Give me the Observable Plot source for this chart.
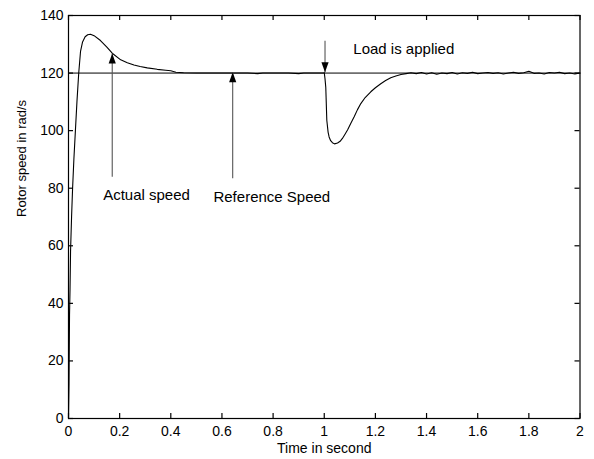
<!DOCTYPE html>
<html>
<head>
<meta charset="utf-8">
<script src="https://cdn.jsdelivr.net/npm/d3@7"></script>
<script src="https://cdn.jsdelivr.net/npm/@observablehq/plot@0.6"></script>
<style>
  html, body { margin: 0; padding: 0; background: #fff; }
  #chart svg { display: block; }
</style>
</head>
<body>
<div id="chart"></div>
<script>
// Actual rotor speed trace (time in s, speed in rad/s)
const time = [0, 0.002, 0.004, 0.006, 0.008, 0.012, 0.016, 0.021, 0.027, 0.033, 0.04, 0.047, 0.055, 0.065, 0.075, 0.086, 0.1, 0.125, 0.15, 0.171, 0.204, 0.23, 0.256, 0.28, 0.308, 0.347, 0.38, 0.4, 0.42, 0.45, 0.5, 0.55, 0.6, 0.65, 0.7, 0.74, 0.76, 0.78, 0.82, 0.86, 0.9, 0.92, 0.96, 0.998,
  1.0, 1.003, 1.006, 1.01, 1.015, 1.019, 1.025, 1.032, 1.04, 1.052, 1.062, 1.071, 1.08, 1.091, 1.104, 1.117, 1.13, 1.143, 1.16, 1.182, 1.2, 1.221, 1.24, 1.26, 1.28, 1.3, 1.32, 1.339,
  1.36, 1.38, 1.4, 1.42, 1.44, 1.46, 1.48, 1.5, 1.52, 1.54, 1.56, 1.58, 1.6, 1.62, 1.64, 1.66, 1.68, 1.7, 1.72, 1.74, 1.76, 1.78, 1.8, 1.82, 1.84, 1.86, 1.88, 1.9, 1.92, 1.94, 1.96, 1.98, 2.0];
const speed = [0, 12, 36, 45, 58, 70, 80, 90, 100, 110, 120, 127.5, 130.8, 132.6, 133.3, 133.5, 133, 131.3, 129, 126.9, 124.6, 123.6, 122.8, 122.3, 121.8, 121.3, 121.0, 120.8, 120.3, 120.1, 120, 120, 120, 120, 120, 119.8, 120, 120, 120, 120, 119.8, 120, 120, 120,
  120.2, 118, 115, 103.6, 99.5, 97.8, 96.5, 95.8, 95.4, 95.7, 96.3, 97.3, 98.6, 100.2, 102.6, 104.8, 107.3, 109.4, 111.5, 113.5, 114.9, 116.3, 117.4, 118.4, 119.0, 119.5, 119.8, 120.1,
  119.8, 120.2, 119.7, 120.1, 119.6, 120.0, 119.8, 120.2, 119.7, 120.1, 119.9, 120.3, 119.8, 120.0, 120.2, 119.9, 120.1, 119.7, 120.0, 120.3, 119.9, 120.1, 120.6, 119.9, 120.0, 119.7, 120.2, 120.0, 120.3, 119.8, 120.0, 119.7, 120.0];

// Reference speed
const refTime = [0, 2];
const refSpeed = [120, 120];

// Tick values
const xTicks = [0, 0.2, 0.4, 0.6, 0.8, 1, 1.2, 1.4, 1.6, 1.8, 2];
const yTicks = [0, 20, 40, 60, 80, 100, 120, 140];

// Annotations: arrow from (x, yFrom) to tip (x, yTip); text at (tx, ty)
const arrowX = [0.171, 0.642, 1.003];
const arrowFrom = [84, 83.5, 131.2];
const arrowTip = [126.8, 120.3, 120.3];
const labelText = ["Actual speed", "Reference Speed", "Load is applied"];
const labelX = [0.305, 0.795, 1.311];
const labelY = [77.6, 77, 128.3];

const series = time.map((t, i) => ({t, v: speed[i]}));
const ref = refTime.map((t, i) => ({t, v: refSpeed[i]}));
const arrows = arrowX.map((x, i) => ({x, y1: arrowFrom[i], y2: arrowTip[i], up: arrowTip[i] > arrowFrom[i]}));
const labels = labelText.map((s, i) => ({s, x: labelX[i], y: labelY[i]}));

const headUp = {draw(ctx) { ctx.moveTo(0, 0); ctx.lineTo(3.6, 10); ctx.lineTo(-3.6, 10); ctx.closePath(); }};
const headDown = {draw(ctx) { ctx.moveTo(0, 0); ctx.lineTo(3.6, -10); ctx.lineTo(-3.6, -10); ctx.closePath(); }};

const font = "'Liberation Sans', Arial, Helvetica, sans-serif";

const W = 594, H = 459, ML = 68, MR = 14.5, MT = 15, MB = 41;
const frameW = W - ML - MR, frameH = H - MT - MB, TICK = 5;

const chart = Plot.plot({
  width: W,
  height: H,
  marginLeft: ML,
  marginRight: MR,
  marginTop: MT,
  marginBottom: MB,
  style: {fontFamily: font, fontSize: "14px", color: "#000", background: "#fff"},
  x: {domain: [0, 2]},
  y: {domain: [0, 140]},
  marks: [
    // tick labels
    Plot.axisX(xTicks, {anchor: "bottom", tickSize: 0, tickPadding: 8, label: null, fontSize: 14, tickFormat: d => String(d)}),
    Plot.axisY(yTicks, {anchor: "left", tickSize: 0, tickPadding: 5, label: null, fontSize: 14, tickFormat: d => String(d)}),
    // inward ticks on all sides
    Plot.ruleX(xTicks, {x: d => d, insetTop: frameH - TICK, stroke: "#000", strokeWidth: 1.2}),
    Plot.ruleX(xTicks, {x: d => d, insetBottom: frameH - TICK, stroke: "#000", strokeWidth: 1.2}),
    Plot.ruleY(yTicks, {y: d => d, insetRight: frameW - TICK, stroke: "#000", strokeWidth: 1.2}),
    Plot.ruleY(yTicks, {y: d => d, insetLeft: frameW - TICK, stroke: "#000", strokeWidth: 1.2}),
    // axis titles
    Plot.text(["Time in second"], {frameAnchor: "bottom", dy: 34, fontSize: 14}),
    Plot.text(["Rotor speed in rad/s"], {frameAnchor: "left", dx: -47, rotate: -90, fontSize: 13}),
    // reference line
    Plot.line(ref, {x: "t", y: "v", stroke: "#000", strokeWidth: 1}),
    // actual speed
    Plot.line(series, {x: "t", y: "v", stroke: "#000", strokeWidth: 1.1, curve: "linear"}),
    // annotation arrows
    Plot.link(arrows, {x1: "x", x2: "x", y1: "y1", y2: "y2", stroke: "#555", strokeWidth: 1.1}),
    Plot.dot(arrows.filter(d => d.up), {x: "x", y: "y2", symbol: headUp, fill: "#000", stroke: "none"}),
    Plot.dot(arrows.filter(d => !d.up), {x: "x", y: "y2", symbol: headDown, fill: "#000", stroke: "none"}),
    Plot.text(labels, {x: "x", y: "y", text: "s", fontSize: 15, fill: "#000"}),
    Plot.frame({stroke: "#000", strokeWidth: 1.2})
  ]
});
document.getElementById("chart").appendChild(chart);
</script>
</body>
</html>
